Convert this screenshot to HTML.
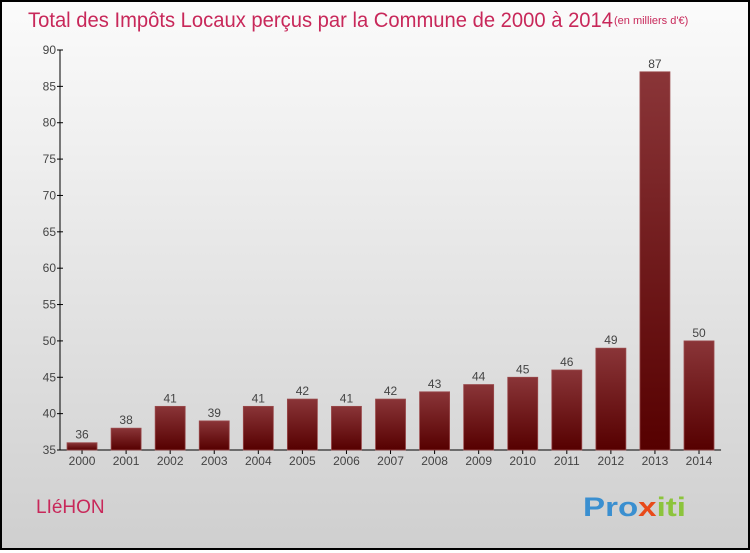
<!DOCTYPE html>
<html><head><meta charset="utf-8"><style>
body{margin:0;width:750px;height:550px;overflow:hidden;font-family:"Liberation Sans",sans-serif}
#wrap{position:absolute;left:0;top:0;width:746px;height:546px;border:2px solid #000;background:linear-gradient(#fbfbfb,#cfcfcf)}
</style></head><body>
<div id="wrap">
<svg width="746" height="546" viewBox="2 2 746 546" xmlns="http://www.w3.org/2000/svg" id="svg">
<defs><linearGradient id="bg" x1="0" y1="0" x2="0" y2="1"><stop offset="0" stop-color="#8a3538"/><stop offset="1" stop-color="#560000"/></linearGradient></defs>
<text x="28" y="27" font-size="21" fill="#c8285a" font-weight="300" textLength="585" lengthAdjust="spacingAndGlyphs">Total des Impôts Locaux perçus par la Commune de 2000 à 2014</text>
<text x="614" y="24" font-size="11" fill="#c8285a">(en milliers d'€)</text>
<text x="36" y="513" font-size="19" fill="#c8285a">LIéHON</text>
<text x="583" y="516" font-size="27" font-weight="bold" textLength="103" lengthAdjust="spacingAndGlyphs"><tspan fill="#3a8fd0">Pro</tspan><tspan fill="#e84a1a">x</tspan><tspan fill="#8cc43c">iti</tspan></text>
<g id="axes"></g><g id="bars"></g>
</svg></div>
<script>
const years=["2000","2001","2002","2003","2004","2005","2006","2007","2008","2009","2010","2011","2012","2013","2014"];
const values=[36,38,41,39,41,42,41,42,43,44,45,46,49,87,50];
const yTicks=[35,40,45,50,55,60,65,70,75,80,85,90];
const NS="http://www.w3.org/2000/svg";
const x0=60,y0=450,yTop=50,yMin=35,yMax=90,step=44.07,bw=30;
const y=v=>y0-(v-yMin)/(yMax-yMin)*(y0-yTop);
const xc=i=>x0+step*(i+0.5);
function mk(t,a,p){const e=document.createElementNS(NS,t);for(const k in a)e.setAttribute(k,a[k]);p.appendChild(e);return e;}
const ax=document.getElementById('axes'),bars=document.getElementById('bars');
const yl=mk('line',{x1:x0,y1:yTop,x2:x0,y2:y0,stroke:'#000','stroke-width':1},ax);


const xl=mk('line',{x1:x0,y1:y0,x2:x0+step*15,y2:y0,stroke:'#000','stroke-width':1},ax);


yTicks.forEach(v=>{
 mk('line',{x1:x0-3,y1:y(v),x2:x0+3,y2:y(v),stroke:'#000'},ax);
 const t=mk('text',{x:x0-4,y:y(v)+4,'font-size':12,fill:'#444','text-anchor':'end'},ax);t.textContent=v;
 
 
});
years.forEach((yr,i)=>{
 const v=values[i];
 const r=mk('rect',{x:xc(i)-bw/2,y:y(v),width:bw,height:y0-y(v),fill:'url(#bg)',stroke:'#9a4a4c','stroke-width':0.8},bars);
 
 
 const l=mk('text',{x:xc(i),y:y(v)-4,'font-size':12,fill:'#444','text-anchor':'middle'},bars);l.textContent=v;
 
 
 mk('line',{x1:xc(i),y1:y0,x2:xc(i),y2:y0+4,stroke:'#000'},ax);
 const t=mk('text',{x:xc(i),y:y0+15,'font-size':12,fill:'#444','text-anchor':'middle'},ax);t.textContent=yr;
 
 
});
</script>
</body></html>
